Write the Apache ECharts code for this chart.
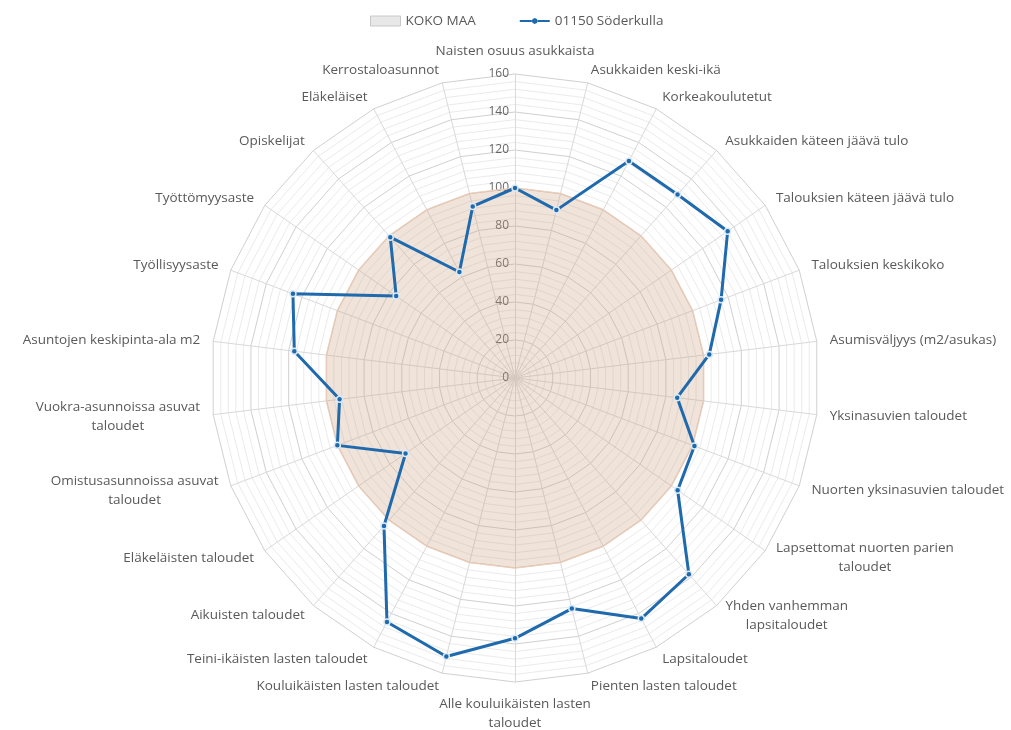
<!DOCTYPE html>
<html>
<head>
<meta charset="utf-8">
<script src="https://cdn.jsdelivr.net/npm/echarts@6/dist/echarts.min.js"></script>
<style>
  html, body { margin: 0; padding: 0; background: #fff; }
  #chart { width: 1011px; height: 730px; }
</style>
</head>
<body>
<div id="chart"></div>
<script>
// indikaattorit, myötäpäivään ylhäältä
var indicatorNames = [
    'Naisten osuus asukkaista',
    'Asukkaiden keski-ikä',
    'Korkeakoulutetut',
    'Asukkaiden käteen jäävä tulo',
    'Talouksien käteen jäävä tulo',
    'Talouksien keskikoko',
    'Asumisväljyys (m2/asukas)',
    'Yksinasuvien taloudet',
    'Nuorten yksinasuvien taloudet',
    'Lapsettomat nuorten parien\ntaloudet',
    'Yhden vanhemman\nlapsitaloudet',
    'Lapsitaloudet',
    'Pienten lasten taloudet',
    'Alle kouluikäisten lasten\ntaloudet',
    'Kouluikäisten lasten taloudet',
    'Teini-ikäisten lasten taloudet',
    'Aikuisten taloudet',
    'Eläkeläisten taloudet',
    'Omistusasunnoissa asuvat\ntaloudet',
    'Vuokra-asunnoissa asuvat\ntaloudet',
    'Asuntojen keskipinta-ala m2',
    'Työllisyysaste',
    'Työttömyysaste',
    'Opiskelijat',
    'Eläkeläiset',
    'Kerrostaloasunnot'
];
var kokoMaa = [100,100,100,100,100,100,100,100,100,100,100,100,100,
               100,100,100,100,100,100,100,100,100,100,100,100,100];
var soderkulla = [100, 91, 129, 129, 136, 116, 103, 86, 101, 104, 138, 143, 125,
                  137, 151, 145, 104, 70, 100, 93, 117, 125, 76, 99, 63, 93];
var axisMin = 0;
var axisMax = 160;
var majorStep = 20;
var minorStep = 4;

var FONT = '"Open Sans", sans-serif';
var NAME_SIZE = 13.5;

// echarts piirtää vastapäivään -> käännetään järjestys (eka pysyy ylhäällä)
function clockwise(arr) {
    return [arr[0]].concat(arr.slice(1).reverse());
}

// monirivisten nimien rivit keskitetään
var ctx = document.createElement('canvas').getContext('2d');
ctx.font = NAME_SIZE + 'px ' + FONT;
var rich = {};
var indicators = clockwise(indicatorNames).map(function (n, i) {
    var ind = { name: n, min: axisMin, max: axisMax };
    if (n.indexOf('\n') >= 0) {
        var lines = n.split('\n');
        var w = Math.max.apply(null, lines.map(function (l) { return ctx.measureText(l).width; }));
        var key = 'c' + i;
        rich[key] = { width: Math.ceil(w), align: 'center', color: '#595959', fontSize: NAME_SIZE, fontFamily: FONT, lineHeight: 19 };
        ind.name = lines.map(function (l) { return '{' + key + '|' + l + '}'; }).join('\n');
    }
    if (i === 0) {
        ind.axisLabel = {
            show: true,
            color: '#666666',
            fontSize: 12,
            margin: 6,
            formatter: function (v) { return v % majorStep === 0 ? String(v) : ''; }
        };
    }
    return ind;
});

// joka viides rengas tummempi
var ringColors = [];
for (var k = 0; k < majorStep / minorStep; k++) {
    ringColors.push(k === 0 ? '#d0d0d0' : '#ebebeb');
}

var lineIcon = 'path://M0,0 L0.1,0 L0.1,0.1 L0,0.1 Z M29.9,9.9 L30,9.9 L30,10 L29.9,10 Z ' +
    'M0,4 L12,4 L12,6 L0,6 Z M18,4 L30,4 L30,6 L18,6 Z ' +
    'M12,5 L12.9,2.9 L15,2 L17.1,2.9 L18,5 L17.1,7.1 L15,8 L12.9,7.1 Z';

var myChart = echarts.init(document.getElementById('chart'));
var option = {
    backgroundColor: '#fff',
    textStyle: { fontFamily: FONT },
    legend: {
        top: 9,
        left: 365,
        itemGap: 44,
        itemWidth: 30,
        itemHeight: 10,
        textStyle: { color: '#595959', fontSize: 13.5, fontFamily: FONT },
        data: [
            { name: 'KOKO MAA', icon: 'rect', itemStyle: { color: '#e8e8e8', borderColor: '#c8c8c8', borderWidth: 1 } },
            { name: '01150 Söderkulla', icon: lineIcon, itemStyle: { color: '#1f69ad', borderWidth: 0 } }
        ]
    },
    radar: {
        center: [515, 378],
        radius: 304,
        startAngle: 90,
        shape: 'polygon',
        splitNumber: (axisMax - axisMin) / minorStep,
        nameGap: 13,
        axisName: {
            color: '#595959',
            fontSize: NAME_SIZE,
            fontFamily: FONT,
            lineHeight: 19,
            rich: rich
        },
        axisLabel: { show: false },
        axisTick: { show: false },
        axisLine: { lineStyle: { color: '#d9d9d9', width: 1 } },
        splitLine: { lineStyle: { color: ringColors, width: 1 } },
        splitArea: { show: false },
        indicator: indicators
    },
    series: [
        {
            type: 'radar',
            z: 2,
            silent: true,
            data: [
                {
                    name: 'KOKO MAA',
                    value: clockwise(kokoMaa),
                    symbol: 'none',
                    lineStyle: { color: '#ecd3c3', width: 1.5 },
                    itemStyle: { color: '#e8e8e8' },
                    areaStyle: { color: 'rgba(205,160,130,0.42)' }
                }
            ]
        },
        {
            type: 'radar',
            z: 3,
            data: [
                {
                    name: '01150 Söderkulla',
                    value: clockwise(soderkulla),
                    symbol: 'circle',
                    symbolSize: 6,
                    lineStyle: { color: '#1f69ad', width: 3 },
                    itemStyle: { color: '#1f69ad', borderColor: '#dceaf7', borderWidth: 1.5 }
                }
            ]
        }
    ]
};
myChart.setOption(option);
</script>
</body>
</html>
